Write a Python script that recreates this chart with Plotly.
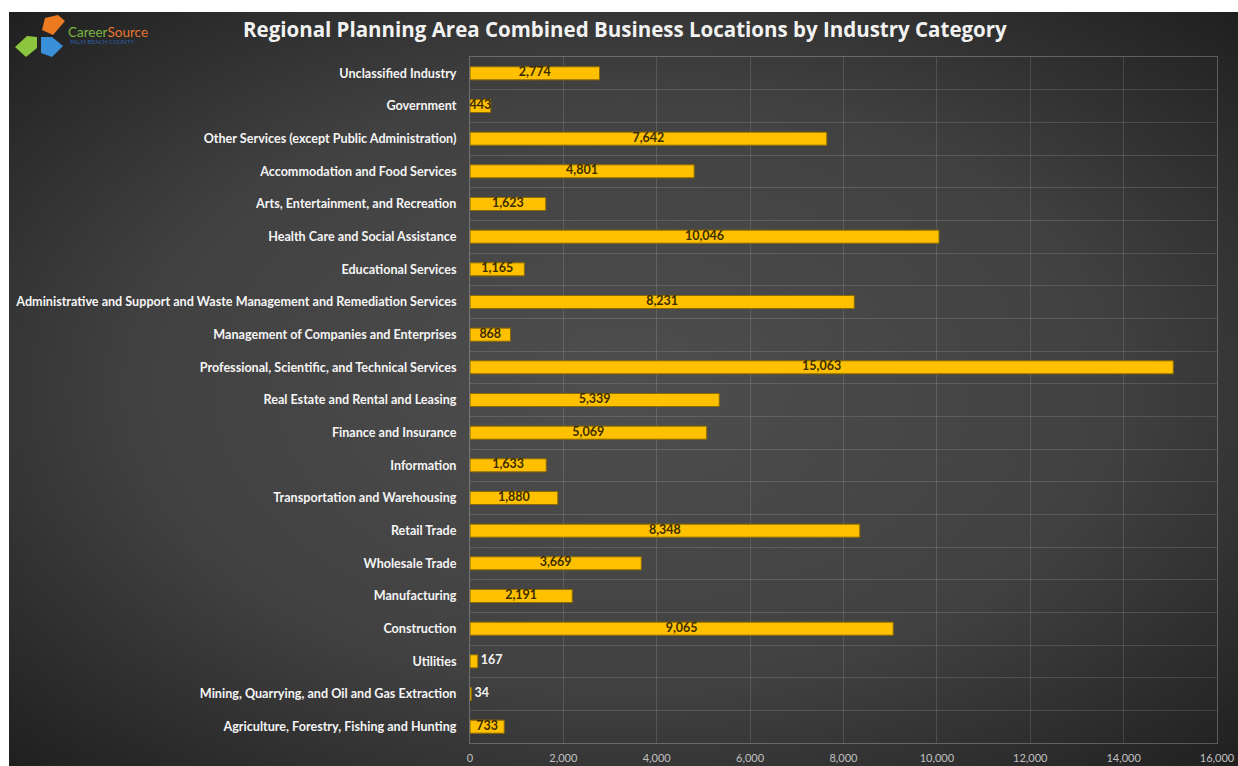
import base64
import plotly.graph_objects as go

# ---------------- data ----------------
categories = [
    "Unclassified Industry",
    "Government",
    "Other Services (except Public Administration)",
    "Accommodation and Food Services",
    "Arts, Entertainment, and Recreation",
    "Health Care and Social Assistance",
    "Educational Services",
    "Administrative and Support and Waste Management and Remediation Services",
    "Management of Companies and Enterprises",
    "Professional, Scientific, and Technical Services",
    "Real Estate and Rental and Leasing",
    "Finance and Insurance",
    "Information",
    "Transportation and Warehousing",
    "Retail Trade",
    "Wholesale Trade",
    "Manufacturing",
    "Construction",
    "Utilities",
    "Mining, Quarrying, and Oil and Gas Extraction",
    "Agriculture, Forestry, Fishing and Hunting",
]
locations = [2774, 443, 7642, 4801, 1623, 10046, 1165, 8231, 868, 15063,
             5339, 5069, 1633, 1880, 8348, 3669, 2191, 9065, 167, 34, 733]
outside_label_categories = ["Utilities", "Mining, Quarrying, and Oil and Gas Extraction"]
x_max = 16000
x_dtick = 2000
title_text = "Regional Planning Area Combined Business Locations by Industry Category"

# ---------------- geometry ----------------
W, H = 1238, 766
ML, MR, MT, MB = 470, 21, 57, 23
PW, PH = W - ML - MR, H - MT - MB


def px_x(p):
    return (p - ML) / PW


def px_y(p):
    return (H - MB - p) / PH


GOLD = "#FFC000"
FONT = "Lato"

n_cat = len(categories)
pos = list(range(n_cat))
inside_idx = [i for i, c in enumerate(categories) if c not in outside_label_categories]
outside_idx = [i for i, c in enumerate(categories) if c in outside_label_categories]

fig = go.Figure()
fig.add_trace(go.Bar(
    y=pos, x=locations, orientation="h", width=0.4,
    marker=dict(color=GOLD, line=dict(color="#8a6a00", width=1)),
    customdata=categories, hovertemplate="%{customdata}: %{x:,}<extra></extra>",
    showlegend=False,
))
fig.add_trace(go.Scatter(
    y=inside_idx, x=[locations[i] / 2 for i in inside_idx], mode="text",
    text=[f"{locations[i]:,}" for i in inside_idx], textposition="middle center",
    textfont=dict(family=FONT, size=12.5, color="#3a2c00", weight="bold"),
    hoverinfo="skip", showlegend=False, cliponaxis=False,
))
fig.add_trace(go.Scatter(
    y=outside_idx, x=[locations[i] for i in outside_idx], mode="text",
    text=[f" {locations[i]:,}" for i in outside_idx], textposition="middle right",
    textfont=dict(family=FONT, size=12.5, color="#f2f2f2", weight="bold"),
    hoverinfo="skip", showlegend=False, cliponaxis=False,
))

# background gradient (svg data uri)
svg = '''<svg xmlns="http://www.w3.org/2000/svg" width="1229" height="754" viewBox="0 0 1229 754" preserveAspectRatio="none">
<defs><radialGradient id="g" cx="50%" cy="50%" r="72%" fx="50%" fy="50%">
<stop offset="0%" stop-color="#4e4e4e"/><stop offset="55%" stop-color="#414141"/><stop offset="100%" stop-color="#1e1e1e"/>
</radialGradient></defs><rect width="1229" height="754" fill="url(#g)"/></svg>'''
src = "data:image/svg+xml;base64," + base64.b64encode(svg.encode()).decode()
bg_left, bg_top = 9, 12
fig.add_layout_image(dict(
    source=src, xref="paper", yref="paper",
    x=px_x(bg_left), y=px_y(bg_top),
    sizex=(W - bg_left) / PW, sizey=(H - bg_top) / PH,
    sizing="stretch", xanchor="left", yanchor="top", layer="below",
))

# logo shapes
def poly(pts, color):
    d = "M " + " L ".join(f"{px_x(x):.5f},{px_y(y):.5f}" for x, y in pts) + " Z"
    return dict(type="path", path=d, xref="paper", yref="paper",
                fillcolor=color, line=dict(width=0), layer="above")

shapes = [
    poly([(45, 18), (58, 15), (65, 21), (53, 35), (42, 30)], "#ec7a21"),
    poly([(15, 47), (27, 36), (37, 37), (37, 48), (26, 57)], "#8cc63f"),
    poly([(41, 37), (52, 37), (63, 46), (52, 57), (41, 53)], "#3a8fd9"),
]

annotations = [
    dict(text=f"<b>{title_text}</b>", x=px_x(625), y=px_y(29), xref="paper", yref="paper",
         showarrow=False, xanchor="center", yanchor="middle",
         font=dict(family="Open Sans", size=20.5, color="#f2f2f2")),
    dict(text='<span style="color:#79b543">Career</span><span style="color:#e8772e">Source</span>',
         x=px_x(66), y=px_y(32), xref="paper", yref="paper", showarrow=False,
         xanchor="left", yanchor="middle", font=dict(family=FONT, size=13.5)),
    dict(text="PALM BEACH COUNTY", x=px_x(68), y=px_y(41), xref="paper", yref="paper",
         showarrow=False, xanchor="left", yanchor="middle",
         font=dict(family=FONT, size=6, color="#2e5fa8")),
]

grid = "rgba(255,255,255,0.13)"
fig.update_layout(
    width=W, height=H,
    margin=dict(l=ML, r=MR, t=MT, b=MB, pad=0, autoexpand=False),
    paper_bgcolor="white", plot_bgcolor="rgba(0,0,0,0)",
    shapes=shapes, annotations=annotations,
    xaxis=dict(range=[0, x_max], dtick=x_dtick, tickformat=",", showgrid=True, gridcolor=grid,
               zeroline=False, showline=True, linecolor="rgba(255,255,255,0.25)", mirror=True,
               automargin=False, ticklabelstandoff=5,
               tickfont=dict(family=FONT, size=11, color="#c0c0c0"), ticks="", fixedrange=True),
    yaxis=dict(type="linear", range=[n_cat - 0.5, -0.5],
               tickmode="array", tickvals=pos, ticktext=categories,
               showgrid=False, zeroline=False,
               minor=dict(tick0=0.5, dtick=1, showgrid=True, gridcolor=grid, ticks=""),
               showline=True, linecolor="rgba(255,255,255,0.25)", mirror=True,
               automargin=False, ticks="", ticklabelstandoff=10,
               tickfont=dict(family=FONT, size=12.6, color="#f5f5f5", weight="bold"), fixedrange=True),
)

fig.write_html("out.html", config={"displayModeBar": False},
               post_script="document.body.style.margin='0';document.body.style.overflow='hidden';")
